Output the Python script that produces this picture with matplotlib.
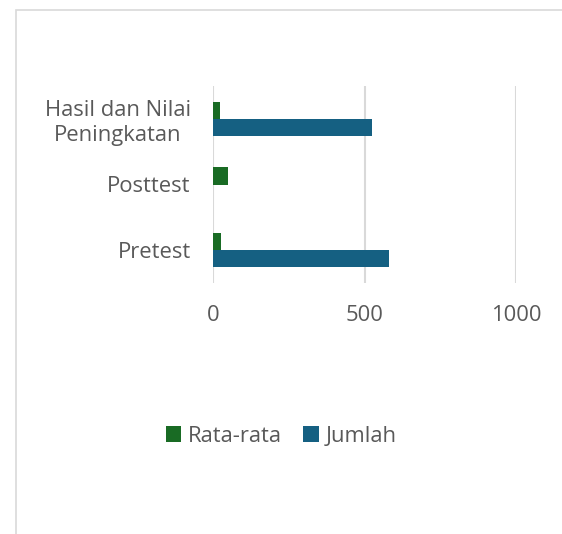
import matplotlib.pyplot as plt
from matplotlib.patches import Rectangle

categories = ["Pretest", "Posttest", "Hasil dan Nilai\nPeningkatan"]
rata_rata = [27, 50, 24]
jumlah = [580, 0, 526]

green = "#196B24"
blue = "#156082"
grey_text = "#595959"

plt.rcParams['font.family'] = ['Open Sans', 'DejaVu Sans']

fig = plt.figure(figsize=(5.62, 5.34), dpi=100)
ax = fig.add_axes([213 / 562, 1 - 283 / 534, 303 / 562, 197 / 534])

y = list(range(len(categories)))
h = 0.26
ax.barh([i + h / 2 for i in y], rata_rata, height=h, color=green, label="Rata-rata", zorder=3)
ax.barh([i - h / 2 for i in y], jumlah, height=h, color=blue, label="Jumlah", zorder=3)

ax.set_xlim(0, 1000)
ax.set_ylim(-0.5, 2.5)
ax.set_xticks([0, 500, 1000])
ax.set_yticks(y)
ax.set_yticklabels(categories, ha="right", multialignment="center", linespacing=1.2)
ax.tick_params(axis="y", length=0, pad=16, labelsize=15.8, labelcolor=grey_text)
ax.tick_params(axis="x", length=0, pad=16, labelsize=15.8, labelcolor=grey_text)

ax.grid(axis="x", color="#d9d9d9", linewidth=1.5, zorder=0)
for s in ax.spines.values():
    s.set_visible(False)

fig.legend(loc="center", bbox_to_anchor=(281 / 562, 1 - 436 / 534), ncol=2, frameon=False,
           fontsize=15.8, labelcolor=grey_text, handlelength=0.7, handleheight=0.7,
           handletextpad=0.3, columnspacing=1.0)

fig.patches.append(Rectangle((16 / 562, -0.1), 1.2, 1 - 10 / 534 + 0.1, transform=fig.transFigure,
                             fill=False, edgecolor="#d9d9d9", linewidth=1.2))

plt.savefig("out.png")
